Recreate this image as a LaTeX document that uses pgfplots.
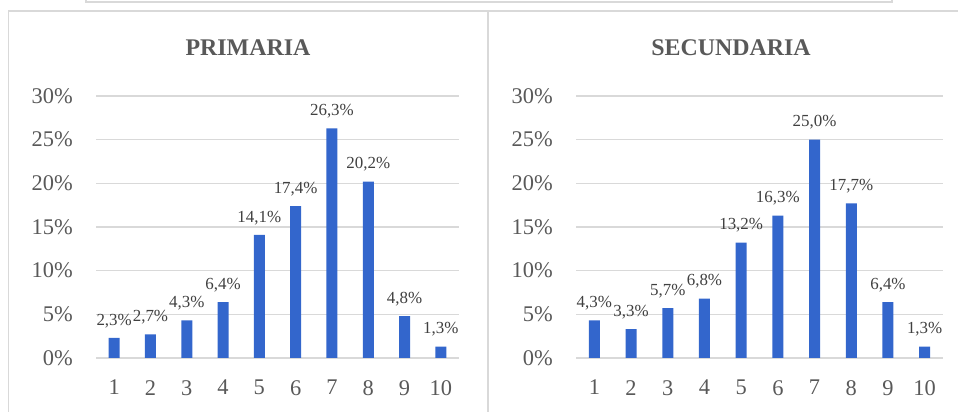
\documentclass[border=0pt]{standalone}
\usepackage{pgfplots}
\pgfplotsset{compat=1.18}
\usepackage{fontspec}
\setmainfont{Liberation Serif}

\definecolor{barblue}{HTML}{3366CC}
\definecolor{gridgray}{HTML}{D9D9D9}
\definecolor{txtgray}{HTML}{595959}
\definecolor{lblgray}{HTML}{404040}

\pgfplotsset{
  panel/.style={
    scale only axis,
    width=#1,
    height=262bp,
    anchor=south west,
    xmin=0.5, xmax=10.5,
    ymin=0, ymax=30,
    axis line style={draw=none},
    tick style={draw=none},
    ymajorgrids,
    grid style={draw=gridgray, line width=1.3bp},
    ytick={0,5,...,30},
    yticklabels={0\%,5\%,10\%,15\%,20\%,25\%,30\%},
    xtick={1,...,10},
    xticklabels={1,2,3,4,5,6,7,8,9,10},
    ticklabel style={font=\fontsize{22.5}{24}\selectfont, text=txtgray},
    yticklabel style={anchor=east, inner sep=0pt, xshift=-23bp},
    xticklabel style={anchor=north, inner sep=0pt, yshift=-22bp},
    /pgf/number format/.cd, fixed, fixed zerofill, precision=1, use comma, assume math mode=true,
    /pgfplots/.cd,
    nodes near coords={\pgfmathprintnumber{\pgfplotspointmeta}\%},
    every node near coord/.append style={font=\fontsize{17}{19}\selectfont, text=lblgray, inner sep=0pt, yshift=10bp},
  },
  colbar/.style={ybar, bar width=11bp, fill=barblue, draw=none},
}

\begin{document}
\begin{tikzpicture}
\useasboundingbox (0,0) rectangle (958bp,412bp);
\begin{scope}
\clip (0,0) rectangle (958bp,412bp);
% marcos
\draw[gridgray, line width=1.5bp] (86bp,430bp) -- (86bp,410bp) -- (892bp,410bp) -- (892bp,430bp);
\draw[gridgray, line width=1.5bp] (8.5bp,0bp) -- (8.5bp,401bp) -- (960bp,401bp);
\draw[gridgray, line width=1.5bp] (488bp,0bp) -- (488bp,401bp);
\end{scope}

\node[font=\fontsize{24}{26}\selectfont\bfseries, text=txtgray] at (248bp,364bp) {PRIMARIA};
\node[font=\fontsize{24}{26}\selectfont\bfseries, text=txtgray] at (731bp,364bp) {SECUNDARIA};

% PRIMARIA
\begin{axis}[panel=363bp, at={(96bp,54bp)}]
\addplot[colbar] coordinates {
(1,2.3) (2,2.7) (3,4.3) (4,6.4) (5,14.1)
(6,17.4) (7,26.3) (8,20.2) (9,4.8) (10,1.3)
};
\end{axis}

% SECUNDARIA
\begin{axis}[panel=367bp, at={(576bp,54bp)}]
\addplot[colbar] coordinates {
(1,4.3) (2,3.3) (3,5.7) (4,6.8) (5,13.2)
(6,16.3) (7,25.0) (8,17.7) (9,6.4) (10,1.3)
};
\end{axis}
\end{tikzpicture}
\end{document}
